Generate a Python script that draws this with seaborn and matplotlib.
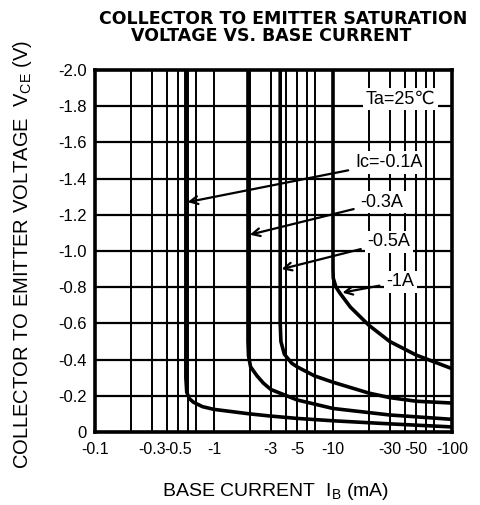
import numpy as np
import pandas as pd
import matplotlib
matplotlib.use("Agg")
import matplotlib.pyplot as plt
import seaborn as sns
from matplotlib.ticker import FixedLocator, NullFormatter

sns.set_style("white")
plt.rcParams['font.family'] = ['Liberation Sans', 'DejaVu Sans']
plt.rcParams['mathtext.fontset'] = 'custom'
plt.rcParams['mathtext.rm'] = 'Liberation Sans'
plt.rcParams['mathtext.it'] = 'Liberation Sans'
plt.rcParams['text.color'] = 'black'
plt.rcParams['axes.labelcolor'] = 'black'
plt.rcParams['xtick.color'] = 'black'
plt.rcParams['ytick.color'] = 'black'

# |IB| (mA) and |VCE| (V) for each collector current
ib_01 = [0.58, 0.58, 0.59, 0.62, 0.67, 0.8, 1.0, 2.0, 3.0, 5.0, 10.0, 30.0, 100.0]
vce_01 = [2.0, 0.30, 0.22, 0.185, 0.165, 0.14, 0.125, 0.10, 0.088, 0.075, 0.062, 0.045, 0.028]

ib_03 = [1.93, 1.93, 1.95, 2.03, 2.3, 2.6, 3.0, 5.0, 10.0, 30.0, 100.0]
vce_03 = [2.0, 0.50, 0.42, 0.36, 0.31, 0.27, 0.235, 0.177, 0.13, 0.094, 0.07]

ib_05 = [3.6, 3.6, 3.65, 3.9, 4.5, 5.0, 7.0, 10.0, 20.0, 30.0, 50.0, 100.0]
vce_05 = [2.0, 0.60, 0.50, 0.43, 0.38, 0.36, 0.31, 0.275, 0.215, 0.19, 0.17, 0.16]

ib_1 = [10.0, 10.0, 10.05, 10.6, 11.5, 14.0, 20.0, 30.0, 50.0, 100.0]
vce_1 = [2.0, 0.90, 0.85, 0.80, 0.765, 0.69, 0.59, 0.50, 0.425, 0.35]

series_labels = ["Ic=-0.1A", "-0.3A", "-0.5A", "-1A"]

x_ticks = [0.1, 0.3, 0.5, 1, 3, 5, 10, 30, 50, 100]
x_tick_labels = ["-0.1", "-0.3", "-0.5", "-1", "-3", "-5", "-10", "-30", "-50", "-100"]
y_ticks = [0, 0.2, 0.4, 0.6, 0.8, 1.0, 1.2, 1.4, 1.6, 1.8, 2.0]
y_tick_labels = ["0", "-0.2", "-0.4", "-0.6", "-0.8", "-1.0", "-1.2", "-1.4", "-1.6", "-1.8", "-2.0"]

fig = plt.figure(figsize=(4.81, 5.05), dpi=100)
ax = fig.add_axes([95/481, 1-432/505, (452-95)/481, (432-70)/505])

ax.set_xscale('log')
ax.set_xlim(0.1, 100)
ax.set_ylim(0, 2.0)

# grid
minor = []
for dec in [0.1, 1, 10]:
    for m in [2, 3, 4, 5, 6, 7]:
        minor.append(dec * m)
for xv in minor + [1, 10]:
    ax.axvline(xv, color='black', lw=1.4, zorder=1)
for yv in y_ticks[1:-1]:
    ax.axhline(yv, color='black', lw=1.6, zorder=1)

data = [(ib_01, vce_01), (ib_03, vce_03), (ib_05, vce_05), (ib_1, vce_1)]
for lab, (xs, ys) in zip(series_labels, data):
    df = pd.DataFrame({"ib": xs, "vce": ys})
    sns.lineplot(data=df, x="ib", y="vce", ax=ax, color='black', lw=2.6,
                 estimator=None, sort=False, zorder=3)

ax.xaxis.set_major_locator(FixedLocator(x_ticks))
ax.xaxis.set_minor_locator(FixedLocator([]))
ax.xaxis.set_minor_formatter(NullFormatter())
ax.set_xticklabels(x_tick_labels)
ax.set_yticks(y_ticks)
ax.set_yticklabels(y_tick_labels)
ax.tick_params(axis='both', length=0, colors='black')
ax.tick_params(axis='x', pad=7, labelsize=11.5)
ax.tick_params(axis='y', pad=6, labelsize=12)

for s in ax.spines.values():
    s.set_visible(True)
    s.set_linewidth(2.6)
    s.set_color('black')

ax.set_xlabel("")
ax.set_ylabel("")

box = dict(facecolor='white', edgecolor='none', pad=2)
# annotations: text positions and arrow targets (data coords)
ann = [
    ("Ic=-0.1A", (15.3, 1.49), (0.60, 1.27)),
    ("-0.3A", (17.0, 1.27), (2.0, 1.09)),
    ("-0.5A", (19.5, 1.05), (3.7, 0.90)),
    ("-1A", (28.0, 0.83), (12.0, 0.77)),
]
for txt, tpos, apos in ann:
    ax.annotate(txt, xy=apos, xytext=tpos, fontsize=13, ha='left', va='center',
                color='black', bbox=box, zorder=5,
                arrowprops=dict(arrowstyle='->', color='black', lw=1.6,
                                mutation_scale=14, shrinkA=3, shrinkB=0))

ax.text(73, 1.84, "Ta=25℃", fontsize=13, ha='right', va='center', color='black',
        bbox=box, zorder=5)

fig.text(283/481, 1-19/505, "COLLECTOR TO EMITTER SATURATION", fontsize=12.5, fontweight='bold',
         family='DejaVu Sans', ha='center', va='center', color='black')
fig.text(271/481, 1-36/505, "VOLTAGE VS. BASE CURRENT", fontsize=12.5, fontweight='bold',
         family='DejaVu Sans', ha='center', va='center', color='black')

fig.text(276/481, 1-492/505, "BASE CURRENT  I$_{\\mathrm{B}}$ (mA)", fontsize=14,
         ha='center', va='center', color='black')
fig.text(23/481, 1-254/505, "COLLECTOR TO EMITTER VOLTAGE  V$_{\\mathrm{CE}}$ (V)", fontsize=14.5,
         ha='center', va='center', rotation=90, color='black')

fig.savefig("out.png", dpi=100, facecolor='white')
